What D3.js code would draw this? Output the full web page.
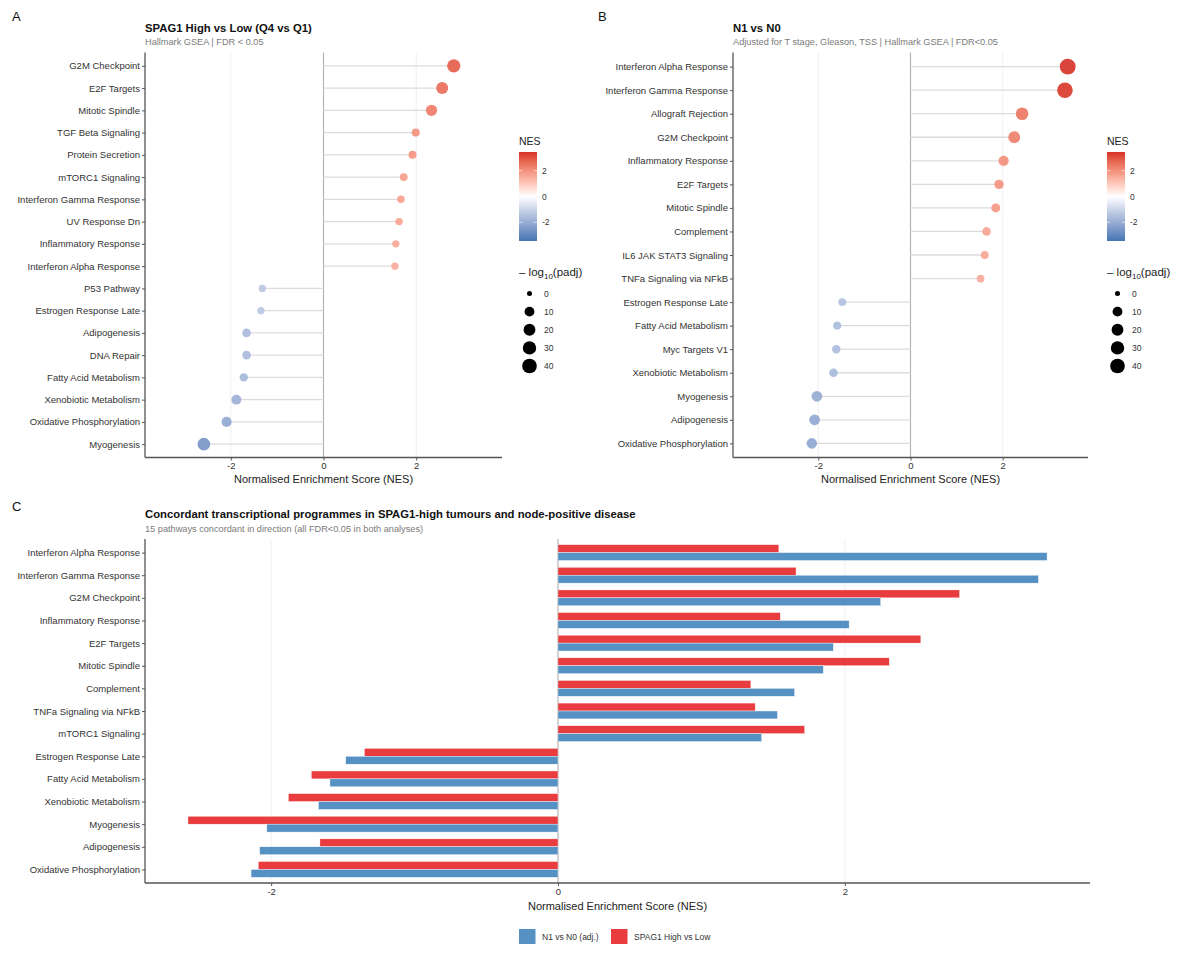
<!DOCTYPE html>
<html>
<head>
<meta charset="utf-8">
<script src="https://cdn.jsdelivr.net/npm/d3@7"></script>
<style>
  body { margin: 0; background: #fff; }
  svg { font-family: "Liberation Sans", Arial, sans-serif; }
</style>
</head>
<body>
<svg width="1179" height="955"></svg>
<script>
// Panel A: SPAG1 high vs low
var pathwaysA = ["G2M Checkpoint", "E2F Targets", "Mitotic Spindle", "TGF Beta Signaling", "Protein Secretion",
    "mTORC1 Signaling", "Interferon Gamma Response", "UV Response Dn", "Inflammatory Response",
    "Interferon Alpha Response", "P53 Pathway", "Estrogen Response Late", "Adipogenesis", "DNA Repair",
    "Fatty Acid Metabolism", "Xenobiotic Metabolism", "Oxidative Phosphorylation", "Myogenesis"];
var nesA = [2.81, 2.56, 2.33, 1.99, 1.92, 1.73, 1.67, 1.63, 1.56, 1.54, -1.32, -1.35, -1.66, -1.66, -1.72, -1.88, -2.09, -2.58];
var logpA = [30, 21, 17, 4, 3.8, 3.5, 3, 2.6, 2.4, 2.4, 2.4, 2.3, 5.5, 5.4, 5, 10.5, 11, 25];

// Panel B: N1 vs N0
var pathwaysB = ["Interferon Alpha Response", "Interferon Gamma Response", "Allograft Rejection", "G2M Checkpoint",
    "Inflammatory Response", "E2F Targets", "Mitotic Spindle", "Complement", "IL6 JAK STAT3 Signaling",
    "TNFa Signaling via NFkB", "Estrogen Response Late", "Fatty Acid Metabolism", "Myc Targets V1",
    "Xenobiotic Metabolism", "Myogenesis", "Adipogenesis", "Oxidative Phosphorylation"];
var nesB = [3.41, 3.35, 2.42, 2.25, 2.02, 1.92, 1.85, 1.65, 1.61, 1.52, -1.48, -1.59, -1.61, -1.67, -2.03, -2.08, -2.14];
var logpB = [50, 48, 25, 20, 11.5, 8.5, 7, 5.8, 3.6, 3.4, 3.6, 5, 5, 5.5, 14, 14, 13];

// Panel C: concordant pathways
var pathwaysC = ["Interferon Alpha Response", "Interferon Gamma Response", "G2M Checkpoint", "Inflammatory Response",
    "E2F Targets", "Mitotic Spindle", "Complement", "TNFa Signaling via NFkB", "mTORC1 Signaling",
    "Estrogen Response Late", "Fatty Acid Metabolism", "Xenobiotic Metabolism", "Myogenesis",
    "Adipogenesis", "Oxidative Phosphorylation"];
var nesSpagC = [1.54, 1.66, 2.80, 1.55, 2.53, 2.31, 1.345, 1.375, 1.72, -1.35, -1.72, -1.88, -2.58, -1.66, -2.09];
var nesNodeC = [3.41, 3.35, 2.25, 2.03, 1.92, 1.85, 1.65, 1.53, 1.42, -1.48, -1.59, -1.67, -2.03, -2.08, -2.14];
var seriesC = ["SPAG1 High vs Low", "N1 vs N0 (adj.)"];
var legendOrder = ["N1 vs N0 (adj.)", "SPAG1 High vs Low"];

var xTicks = [-2, 0, 2];
var nesBreaks = [2, 0, -2];
var sizeBreaks = [0, 10, 20, 30, 40];

var svg = d3.select("svg");

var nesColor = d3.scaleLinear().domain([-3.45, 0, 3.45])
    .range(["#4575B4", "#ffffff", "#D73027"]).interpolate(d3.interpolateLab).clamp(true);
var sizeScale = d3.scaleSqrt().domain([0, 50]).range([2.5, 7.9]);
var barColor = d3.scaleOrdinal().domain(seriesC).range(["#E41A1C", "#377EB8"]);
var plainFmt = function(d) { return String(d); };

function styleAxis(a) {
    a.select(".domain").attr("stroke", "#555").attr("stroke-width", 1.3);
    a.selectAll(".tick line").attr("stroke", "#555").attr("stroke-width", 1);
    a.selectAll(".tick text").attr("fill", "#333").attr("font-size", 9.5);
}

function titles(g, box, title, subtitle) {
    g.append("text").attr("x", box.left).attr("y", box.top - 21)
        .attr("font-size", 11.3).attr("font-weight", "bold").attr("fill", "#111").text(title);
    g.append("text").attr("x", box.left).attr("y", box.top - 7.5)
        .attr("font-size", 9.2).attr("fill", "#7a7a7a").text(subtitle);
}

function drawLollipop(box, names, nes, logp, title, subtitle) {
    var g = svg.append("g");

    var x = d3.scaleLinear().domain([-3.85, 3.85]).range([box.left, box.right]);
    var y = d3.scalePoint().domain(names).range([box.top, box.bottom]).padding(0.6);

    titles(g, box, title, subtitle);

    // grid + zero line
    g.selectAll(".grid").data(xTicks.filter(function(d) { return d !== 0; }))
        .enter().append("line")
        .attr("x1", function(d) { return x(d); }).attr("x2", function(d) { return x(d); })
        .attr("y1", box.top).attr("y2", box.bottom)
        .attr("stroke", "#ebebeb").attr("stroke-width", 0.8);
    g.append("line").attr("x1", x(0)).attr("x2", x(0)).attr("y1", box.top).attr("y2", box.bottom)
        .attr("stroke", "#b5b5b5").attr("stroke-width", 1.2);

    var rows = names.map(function(n, i) { return {name: n, nes: nes[i], lp: logp[i]}; });

    g.selectAll(".stick").data(rows).enter().append("line")
        .attr("x1", x(0)).attr("x2", function(d) { return x(d.nes); })
        .attr("y1", function(d) { return y(d.name); }).attr("y2", function(d) { return y(d.name); })
        .attr("stroke", "#dcdcdc").attr("stroke-width", 1.3);

    g.selectAll(".dot").data(rows).enter().append("circle")
        .attr("cx", function(d) { return x(d.nes); })
        .attr("cy", function(d) { return y(d.name); })
        .attr("r", function(d) { return sizeScale(d.lp); })
        .attr("fill", function(d) { return nesColor(d.nes); })
        .attr("fill-opacity", 0.92);

    var ax = g.append("g").attr("transform", "translate(0," + box.bottom + ")")
        .call(d3.axisBottom(x).tickValues(xTicks).tickFormat(plainFmt).tickSize(3).tickPadding(2).tickSizeOuter(0));
    styleAxis(ax);
    var ay = g.append("g").attr("transform", "translate(" + box.left + ",0)")
        .call(d3.axisLeft(y).tickSize(3).tickPadding(2).tickSizeOuter(0));
    styleAxis(ay);
    ay.select(".domain").attr("d", "M0," + box.top + "V" + box.bottom);
    ax.select(".domain").attr("d", "M" + box.left + ",0H" + box.right);

    g.append("text").attr("x", (box.left + box.right) / 2).attr("y", box.bottom + 25)
        .attr("text-anchor", "middle").attr("font-size", 11).attr("fill", "#222")
        .text("Normalised Enrichment Score (NES)");
}

function drawLegend(lx) {
    var g = svg.append("g");
    g.append("text").attr("x", lx).attr("y", 145).attr("font-size", 10.5).attr("fill", "#222").text("NES");

    var cb = d3.scaleLinear().domain([3.45, -3.45]).range([152, 241]);
    var grad = svg.append("defs").append("linearGradient")
        .attr("id", "nesgrad" + lx).attr("x1", 0).attr("y1", 0).attr("x2", 0).attr("y2", 1);
    d3.range(0, 1.001, 0.05).forEach(function(t) {
        grad.append("stop").attr("offset", t).attr("stop-color", nesColor(3.45 - 6.9 * t));
    });
    g.append("rect").attr("x", lx).attr("y", 152).attr("width", 18).attr("height", 89)
        .attr("fill", "url(#nesgrad" + lx + ")");
    g.selectAll(".cbt").data(nesBreaks).enter().append("g").each(function(d) {
        var s = d3.select(this);
        s.append("line").attr("x1", lx).attr("x2", lx + 3.5).attr("y1", cb(d)).attr("y2", cb(d))
            .attr("stroke", "#fff").attr("stroke-width", 0.6);
        s.append("line").attr("x1", lx + 14.5).attr("x2", lx + 18).attr("y1", cb(d)).attr("y2", cb(d))
            .attr("stroke", "#fff").attr("stroke-width", 0.6);
        s.append("text").attr("x", lx + 23).attr("y", cb(d) + 3).attr("font-size", 8.5)
            .attr("fill", "#333").text(d);
    });

    var t = g.append("text").attr("x", lx).attr("y", 276).attr("font-size", 11.5).attr("fill", "#222");
    t.append("tspan").text("\u2013 log");
    t.append("tspan").attr("font-size", 8).attr("dy", 3).text("10");
    t.append("tspan").attr("dy", -3).text("(padj)");

    var ky = d3.scalePoint().domain(sizeBreaks).range([293.5, 366]);
    g.selectAll(".sk").data(sizeBreaks).enter().append("circle")
        .attr("cx", lx + 10.5).attr("cy", function(d) { return ky(d); })
        .attr("r", function(d) { return sizeScale(d); }).attr("fill", "#000");
    g.selectAll(".skl").data(sizeBreaks).enter().append("text")
        .attr("x", lx + 25).attr("y", function(d) { return ky(d) + 3; })
        .attr("font-size", 8.5).attr("fill", "#333").text(function(d) { return d; });
}

function drawBars(box) {
    var g = svg.append("g");
    var all = nesSpagC.concat(nesNodeC);
    var ext = d3.extent(all), pad = (ext[1] - ext[0]) * 0.05;
    var x = d3.scaleLinear().domain([ext[0] - pad, ext[1] + pad]).range([box.left, box.right]);
    var y = d3.scalePoint().domain(pathwaysC).range([box.top, box.bottom]).padding(0.6);
    var bw = y.step() * 0.7;
    var sub = d3.scaleBand().domain(seriesC).range([-bw / 2, bw / 2]);

    titles(g, box, "Concordant transcriptional programmes in SPAG1-high tumours and node-positive disease",
        "15 pathways concordant in direction (all FDR<0.05 in both analyses)");

    g.selectAll(".grid").data(xTicks.filter(function(d) { return d !== 0; }))
        .enter().append("line")
        .attr("x1", function(d) { return x(d); }).attr("x2", function(d) { return x(d); })
        .attr("y1", box.top).attr("y2", box.bottom)
        .attr("stroke", "#ebebeb").attr("stroke-width", 0.8);
    g.append("line").attr("x1", x(0)).attr("x2", x(0)).attr("y1", box.top).attr("y2", box.bottom)
        .attr("stroke", "#b5b5b5").attr("stroke-width", 1.2);

    var bars = [];
    pathwaysC.forEach(function(p, i) {
        bars.push({name: p, series: seriesC[0], v: nesSpagC[i]});
        bars.push({name: p, series: seriesC[1], v: nesNodeC[i]});
    });

    g.selectAll(".bar").data(bars).enter().append("rect")
        .attr("x", function(d) { return Math.min(x(0), x(d.v)); })
        .attr("width", function(d) { return Math.abs(x(d.v) - x(0)); })
        .attr("y", function(d) { return y(d.name) + sub(d.series); })
        .attr("height", sub.bandwidth())
        .attr("fill", function(d) { return barColor(d.series); })
        .attr("fill-opacity", 0.85)
        .attr("stroke", "#fff").attr("stroke-width", 0.4);

    var ax = g.append("g").attr("transform", "translate(0," + box.bottom + ")")
        .call(d3.axisBottom(x).tickValues(xTicks).tickFormat(plainFmt).tickSize(3).tickPadding(2).tickSizeOuter(0));
    styleAxis(ax);
    var ay = g.append("g").attr("transform", "translate(" + box.left + ",0)")
        .call(d3.axisLeft(y).tickSize(3).tickPadding(2).tickSizeOuter(0));
    styleAxis(ay);
    ay.select(".domain").attr("d", "M0," + box.top + "V" + box.bottom);
    ax.select(".domain").attr("d", "M" + box.left + ",0H" + box.right);

    g.append("text").attr("x", (box.left + box.right) / 2).attr("y", box.bottom + 27)
        .attr("text-anchor", "middle").attr("font-size", 11).attr("fill", "#222")
        .text("Normalised Enrichment Score (NES)");

    // legend
    var lg = g.selectAll(".lg").data(legendOrder).enter().append("g")
        .attr("transform", function(d, i) { return "translate(" + (519 + i * 92) + ",929)"; });
    lg.append("rect").attr("width", 16.5).attr("height", 15)
        .attr("fill", function(d) { return barColor(d); }).attr("fill-opacity", 0.85);
    lg.append("text").attr("x", 23).attr("y", 11).attr("font-size", 8.5).attr("fill", "#333")
        .text(function(d) { return d; });
}

// panel letters
[["A", 12, 21], ["B", 598, 21], ["C", 12, 511]].forEach(function(p) {
    svg.append("text").attr("x", p[1]).attr("y", p[2]).attr("font-size", 13).attr("fill", "#111").text(p[0]);
});

drawLollipop({left: 145, right: 502, top: 52.5, bottom: 457.5}, pathwaysA, nesA, logpA,
    "SPAG1 High vs Low (Q4 vs Q1)", "Hallmark GSEA | FDR < 0.05");
drawLegend(519);
drawLollipop({left: 733, right: 1088, top: 52.5, bottom: 457.5}, pathwaysB, nesB, logpB,
    "N1 vs N0", "Adjusted for T stage, Gleason, TSS | Hallmark GSEA | FDR<0.05");
drawLegend(1107);
drawBars({left: 145, right: 1090, top: 539, bottom: 883});
</script>
</body>
</html>
